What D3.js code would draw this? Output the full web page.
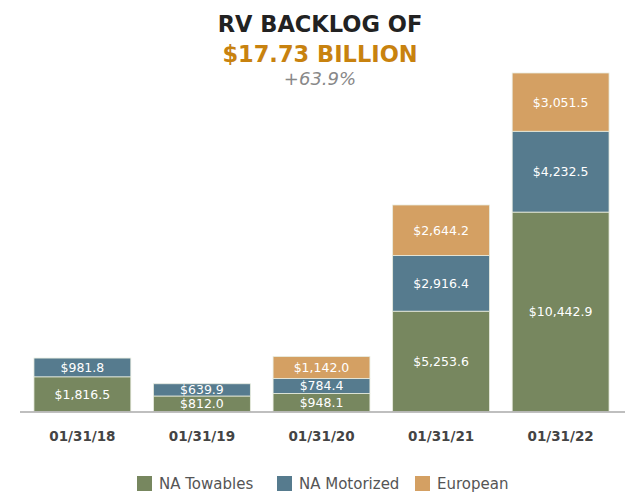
<!DOCTYPE html>
<html><head><meta charset="utf-8">
<script src="https://cdn.jsdelivr.net/npm/d3@7"></script>
<style>body{margin:0;background:#fff;} svg{display:block;}</style>
</head><body>
<svg id="c" width="640" height="500"></svg>
<script>
const categories = ["01/31/18","01/31/19","01/31/20","01/31/21","01/31/22"];
const seriesNames = ["NA Towables","NA Motorized","European"];
const naTowables = [1816.5, 812.0, 948.1, 5253.6, 10442.9];
const naMotorized = [981.8, 639.9, 784.4, 2916.4, 4232.5];
const european = [0, 0, 1142.0, 2644.2, 3051.5];
const colors = ["#77875F","#567B8E","#D4A063"];
const titleLines = ["RV BACKLOG OF","$17.73 BILLION","+63.9%"];

const svg = d3.select("#c");
const font = "DejaVu Sans, Verdana, sans-serif";
const rows = categories.map((c,i)=>({cat:c, "NA Towables":naTowables[i], "NA Motorized":naMotorized[i], "European":european[i]}));
const stack = d3.stack().keys(seriesNames)(rows);

const x = d3.scaleBand().domain(categories).range([22,621]).paddingInner(0.19).paddingOuter(0.1);
const y = d3.scaleLinear().domain([0,17726.9]).range([411.5,73]);
const color = d3.scaleOrdinal().domain(seriesNames).range(colors);

// title
svg.append("text").attr("x",320).attr("y",32).attr("text-anchor","middle")
  .attr("font-family",font).attr("font-weight","bold").attr("font-size",22.5).attr("fill","#222")
  .text(titleLines[0]);
svg.append("text").attr("x",320).attr("y",62).attr("text-anchor","middle")
  .attr("font-family",font).attr("font-weight","bold").attr("font-size",22.5).attr("fill","#C8820F")
  .text(titleLines[1]);
svg.append("text").attr("x",320).attr("y",85).attr("text-anchor","middle")
  .attr("font-family",font).attr("font-style","italic").attr("font-size",18).attr("fill","#888")
  .text(titleLines[2]);

const fmt = d3.format(",.1f");
stack.forEach(s=>{
  const g = svg.append("g");
  s.forEach(d=>{
    const v = d[1]-d[0];
    if(v<=0) return;
    g.append("rect").attr("x",x(d.data.cat)).attr("width",x.bandwidth())
      .attr("y",y(d[1])).attr("height",y(d[0])-y(d[1]))
      .attr("fill",color(s.key)).attr("stroke","#e8ecdf").attr("stroke-width",0.8);
    g.append("text").attr("x",x(d.data.cat)+x.bandwidth()/2).attr("y",(y(d[0])+y(d[1]))/2)
      .attr("dy","0.36em").attr("text-anchor","middle").attr("font-family",font)
      .attr("font-size",12.5).attr("fill","#fff").text("$"+fmt(v));
  });
});

// axis
const xAxis = svg.append("g").attr("transform","translate(0,411.5)")
  .call(d3.axisBottom(x).tickSize(0).tickPadding(20));
xAxis.select(".domain").attr("d","M20,0.5H625").attr("stroke","#aaa").attr("stroke-width",1.5);
xAxis.selectAll("text").attr("font-family",font).attr("font-weight","bold").attr("font-size",13.5).attr("fill","#444");

// legend
const legX = [137, 277, 415];
seriesNames.forEach((n,i)=>{
  svg.append("rect").attr("x",legX[i]).attr("y",476).attr("width",15).attr("height",15).attr("fill",colors[i]);
  svg.append("text").attr("x",legX[i]+22).attr("y",484).attr("dy","0.36em")
    .attr("font-family",font).attr("font-size",15).attr("fill","#555").text(n);
});
</script>
</body></html>
